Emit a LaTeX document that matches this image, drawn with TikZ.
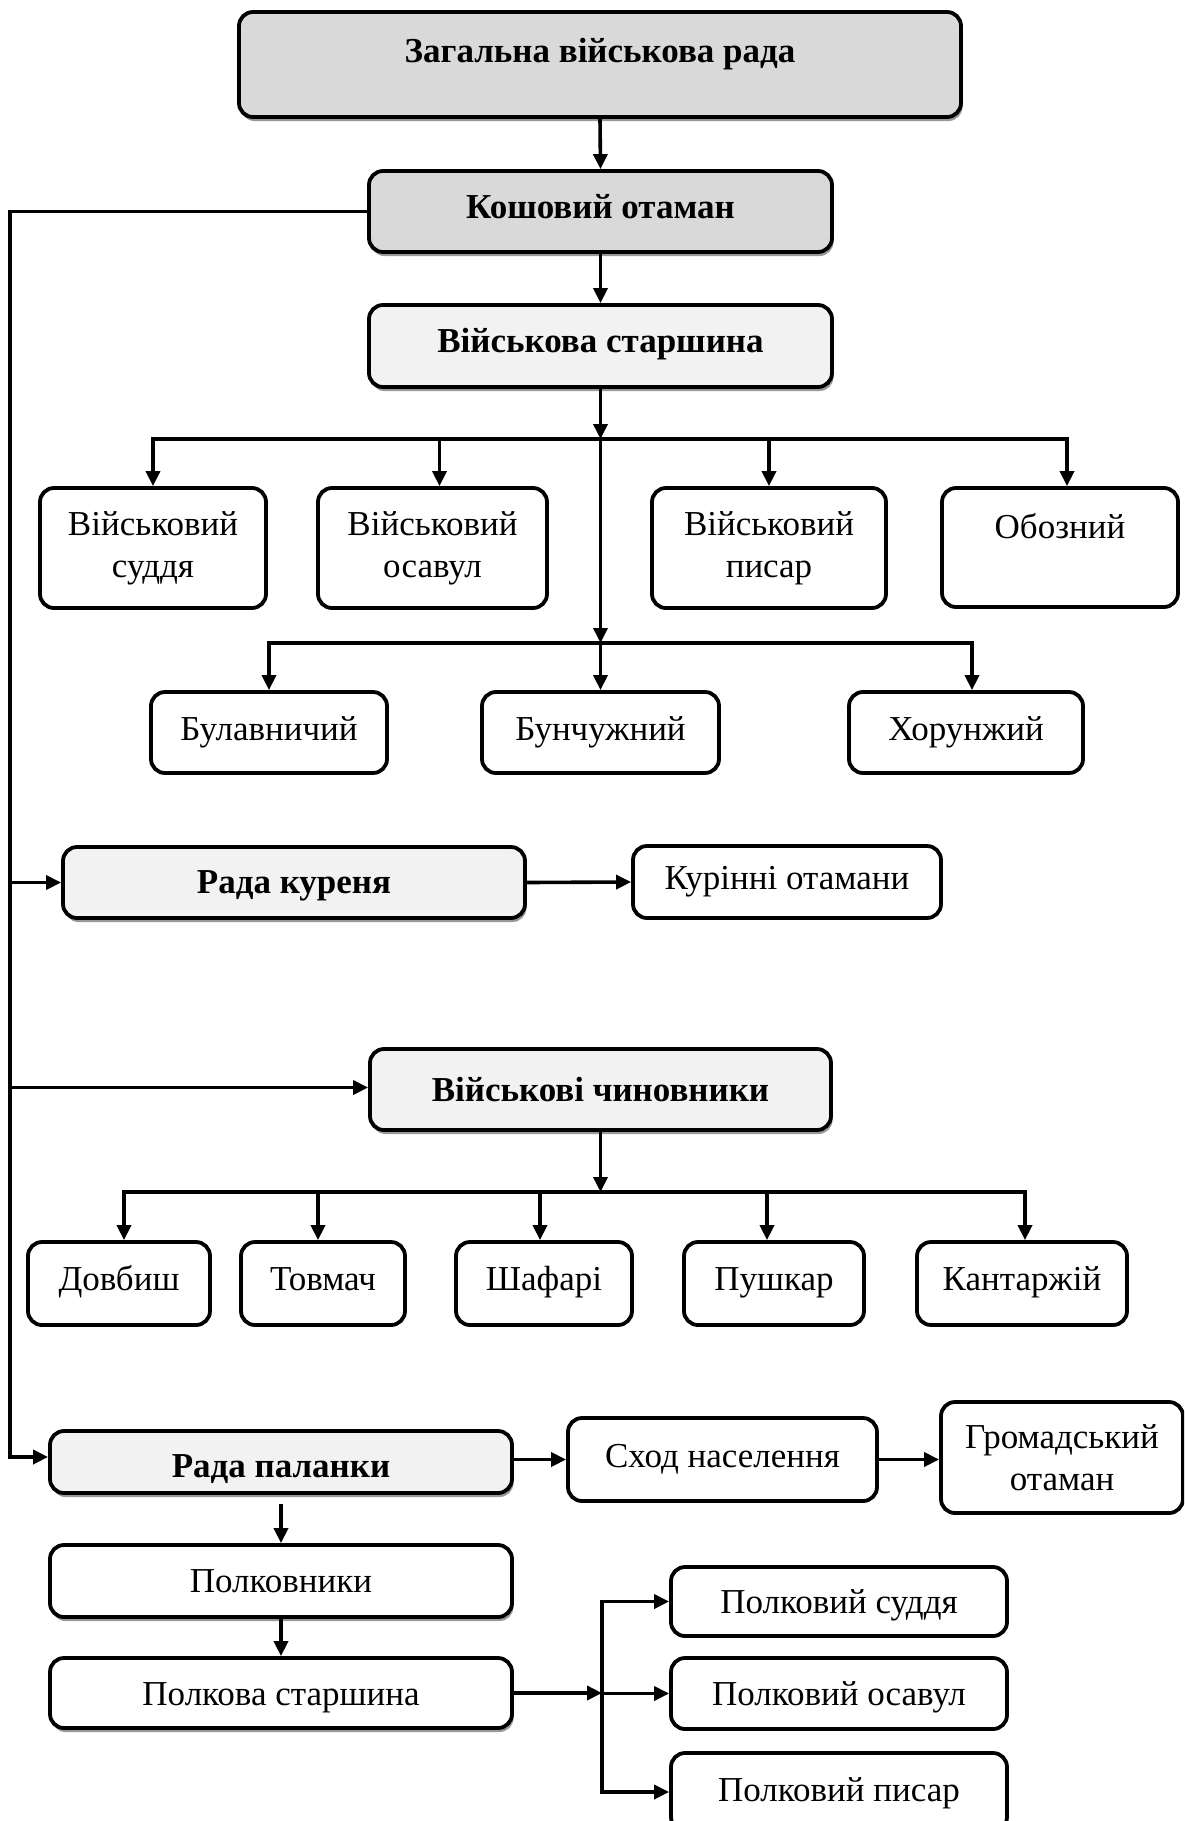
\documentclass[tikz,border=0pt]{standalone}
\usepackage{fontspec}
\setmainfont{Liberation Serif}
\usetikzlibrary{arrows.meta,shadows}
\definecolor{cA}{HTML}{D9D9D9}
\definecolor{cB}{HTML}{F2F2F2}
\begin{document}
\begin{tikzpicture}[x=1pt,y=-1pt,
  box/.style={draw, line width=3.8pt, rounded corners=14pt, inner sep=0pt, align=center, fill=white, font=\fontsize{35}{42}\selectfont},
  hbox/.style={box, font=\fontsize{35}{42}\selectfont\bfseries},
  shad/.style={drop shadow={shadow xshift=1.5pt, shadow yshift=-4pt, fill=black!40, opacity=1}},
  conn/.style={line width=3.6pt, line cap=rect},
  arr/.style={line width=3.6pt, -{Triangle[length=15pt,width=14pt]}},
]
\clip (0,0) rectangle (1184,1821);
\fill[white] (0,0) rectangle (1184,1821);

% top chain
\node[hbox, shad, fill=cA, minimum width=722pt, text height=50pt, text depth=55pt, anchor=base] (zag) at (600,62) {Загальна військова рада};
\node[hbox, shad, fill=cA, minimum width=463pt, text height=47pt, text depth=34pt, anchor=base] (kosh) at (600.5,218) {Кошовий отаман};
\node[hbox, shad, fill=cB, minimum width=463pt, text height=47pt, text depth=35pt, anchor=base] (vs) at (600.5,352) {Військова старшина};

% row 1
\node[box, minimum width=226pt, minimum height=120pt] (sud) at (153,548) {Військовий\\суддя};
\node[box, minimum width=229pt, minimum height=120pt] (osav) at (432.5,548) {Військовий\\осавул};
\node[box, minimum width=234pt, minimum height=120pt] (pys) at (769,548) {Військовий\\писар};
\node[box, minimum width=236pt, text height=50pt, text depth=69pt, anchor=base] (oboz) at (1060,538) {Обозний};

% row 2
\node[box, minimum width=236pt, minimum height=81pt] (bul) at (269,732.5) {Булавничий};
\node[box, minimum width=237pt, minimum height=81pt] (bun) at (600.5,732.5) {Бунчужний};
\node[box, minimum width=234pt, minimum height=81pt] (khor) at (966,732.5) {Хорунжий};

% kurin
\node[hbox, shad, fill=cB, minimum width=462pt, text height=46pt, text depth=25pt, anchor=base] (rk) at (294,893) {Рада куреня};
\node[box, minimum width=308pt, minimum height=72pt] (kur) at (787,882) {Курінні отамани};

% officials
\node[hbox, shad, fill=cB, minimum width=461pt, minimum height=81pt] (vc) at (600.5,1089.5) {Військові чиновники};
\node[box, minimum width=182pt, text height=48pt, text depth=35pt, anchor=base] (dov) at (119,1290) {Довбиш};
\node[box, minimum width=164pt, text height=48pt, text depth=35pt, anchor=base] (tov) at (323,1290) {Товмач};
\node[box, minimum width=176pt, text height=48pt, text depth=35pt, anchor=base] (shaf) at (544,1290) {Шафарі};
\node[box, minimum width=180pt, text height=48pt, text depth=35pt, anchor=base] (push) at (774,1290) {Пушкар};
\node[box, minimum width=210pt, text height=48pt, text depth=35pt, anchor=base] (kant) at (1022,1290) {Кантаржій};

% palanka
\node[hbox, shad, fill=cB, minimum width=462pt, text height=46pt, text depth=16pt, anchor=base] (rp) at (281,1477) {Рада паланки};
\node[box, minimum width=309pt, minimum height=83pt] (skhid) at (722.5,1459.5) {Сход населення};
\node[box, minimum width=242pt, minimum height=111pt] (hrom) at (1062,1457.5) {Громадський\\отаман};
\node[box, shad, minimum width=462pt, minimum height=72pt] (polk) at (281,1581) {Полковники};
\node[box, shad, minimum width=462pt, text height=47pt, text depth=23pt, anchor=base] (pst) at (281,1705) {Полкова старшина};
\node[box, minimum width=336pt, text height=46pt, text depth=23pt, anchor=base] (psud) at (839,1613) {Полковий суддя};
\node[box, minimum width=336pt, text height=47pt, text depth=24pt, anchor=base] (posav) at (839,1705) {Полковий осавул};
\node[box, minimum width=336pt, text height=48pt, text depth=30pt, anchor=base] (ppys) at (839,1801) {Полковий писар};

% helper coordinates
\coordinate (tl) at (10,0);
\coordinate (b1) at (0,439);
\coordinate (b2) at (0,643);
\coordinate (b3) at (0,1192);
\coordinate (j) at (602,0);

% top connectors
\draw[arr] (zag.south) -- (kosh.north);
\draw[arr] (kosh.south) -- (vs.north);
\draw[arr] (vs.south) -- (vs.south |- b1);
\draw[arr] (vs.south |- b1) -- (vs.south |- b2);
\draw[arr] (vs.south |- b2) -- (bun.north);

% bar 1
\draw[conn] (sud.north |- b1) -- ([xshift=7pt]oboz.north |- b1);
\draw[arr] (sud.north |- b1) -- (sud.north);
\draw[arr] ([xshift=7pt]osav.north |- b1) -- ([xshift=7pt]osav.north);
\draw[arr] (pys.north |- b1) -- (pys.north);
\draw[arr] ([xshift=7pt]oboz.north |- b1) -- ([xshift=7pt]oboz.north);

% bar 2
\draw[conn] (bul.north |- b2) -- ([xshift=6pt]khor.north |- b2);
\draw[arr] (bul.north |- b2) -- (bul.north);
\draw[arr] ([xshift=6pt]khor.north |- b2) -- ([xshift=6pt]khor.north);

% left trunk
\draw[arr] (kosh.west) -- (kosh.west -| tl) |- ([yshift=5pt]rp.west);
\draw[arr] (rk.west -| tl) -- (rk.west);
\draw[arr] ([yshift=2pt]vc.west -| tl) -- ([yshift=2pt]vc.west);
\draw[arr] (rk.east) -- (kur.west);

% officials bar
\draw[arr] (vc.south) -- (vc.south |- b3);
\draw[conn] ([xshift=5pt]dov.north |- b3) -- ([xshift=3pt]kant.north |- b3);
\draw[arr] ([xshift=5pt]dov.north |- b3) -- ([xshift=5pt]dov.north);
\draw[arr] ([xshift=-5pt]tov.north |- b3) -- ([xshift=-5pt]tov.north);
\draw[arr] ([xshift=-4pt]shaf.north |- b3) -- ([xshift=-4pt]shaf.north);
\draw[arr] ([xshift=-7pt]push.north |- b3) -- ([xshift=-7pt]push.north);
\draw[arr] ([xshift=3pt]kant.north |- b3) -- ([xshift=3pt]kant.north);

% palanka connectors
\draw[arr] (rp.east |- skhid.west) -- (skhid.west);
\draw[arr] (skhid.east) -- (skhid.east -| hrom.west);
\draw[arr] ([yshift=-9pt]rp.south) -- (polk.north);
\draw[arr] (polk.south) -- (pst.north);
\draw[arr] (pst.east) -- (pst.east -| j);
\draw[conn] (j |- psud.west) -- (j |- ppys.west);
\draw[arr] (j |- psud.west) -- (psud.west);
\draw[arr] (j |- posav.west) -- (posav.west);
\draw[arr] (j |- ppys.west) -- (ppys.west);
\end{tikzpicture}
\end{document}
